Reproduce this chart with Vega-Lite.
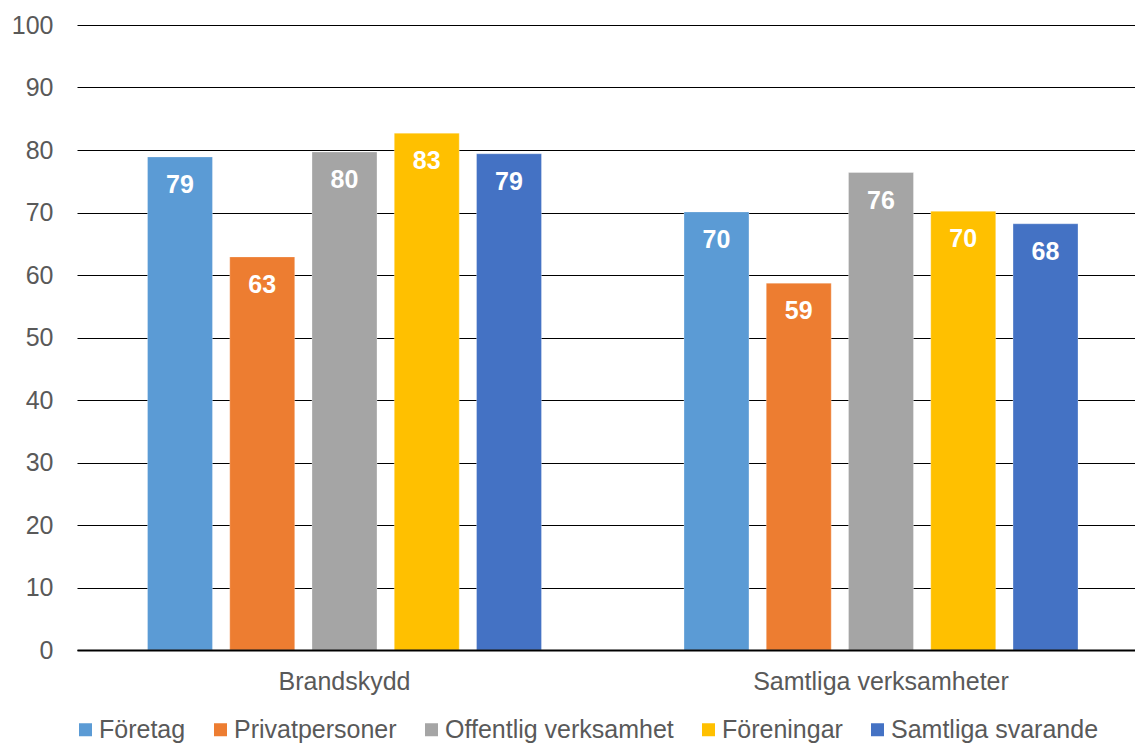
{
  "$schema": "https://vega.github.io/schema/vega-lite/v6.json",
  "autosize": "none",
  "padding": {"left": 77, "top": 25, "right": 0, "bottom": 95},
  "width": 1058,
  "height": 625,
  "background": "white",
  "config": {
    "view": {"stroke": null},
    "font": "Liberation Sans"
  },
  "data": {
    "values": [
      {"group": "Brandskydd", "series": "Företag", "value": 78.9},
      {"group": "Brandskydd", "series": "Privatpersoner", "value": 62.9},
      {"group": "Brandskydd", "series": "Offentlig verksamhet", "value": 79.7},
      {"group": "Brandskydd", "series": "Föreningar", "value": 82.7},
      {"group": "Brandskydd", "series": "Samtliga svarande", "value": 79.4},
      {"group": "Samtliga verksamheter", "series": "Företag", "value": 70.1},
      {"group": "Samtliga verksamheter", "series": "Privatpersoner", "value": 58.7},
      {"group": "Samtliga verksamheter", "series": "Offentlig verksamhet", "value": 76.4},
      {"group": "Samtliga verksamheter", "series": "Föreningar", "value": 70.2},
      {"group": "Samtliga verksamheter", "series": "Samtliga svarande", "value": 68.2}
    ]
  },
  "encoding": {
    "x": {
      "field": "group",
      "type": "nominal",
      "sort": ["Brandskydd", "Samtliga verksamheter"],
      "scale": {"range": [0, 1071.5], "paddingInner": 0.2656, "paddingOuter": 0.1314},
      "axis": {
        "title": null,
        "labelAngle": 0,
        "ticks": false,
        "domain": true,
        "domainColor": "#000000",
        "domainWidth": 2,
        "labelFontSize": 25,
        "labelColor": "#595959",
        "labelPadding": 19,
        "labelLimit": 500,
        "grid": false,
        "zindex": 1
      }
    },
    "xOffset": {
      "field": "series",
      "type": "nominal",
      "sort": ["Företag", "Privatpersoner", "Offentlig verksamhet", "Föreningar", "Samtliga svarande"],
      "scale": {"paddingInner": 0.21, "paddingOuter": 0}
    },
    "y": {
      "field": "value",
      "type": "quantitative",
      "scale": {"domain": [0, 100], "nice": false},
      "axis": {
        "title": null,
        "values": [0, 10, 20, 30, 40, 50, 60, 70, 80, 90, 100],
        "grid": true,
        "gridColor": "#000000",
        "gridWidth": 1,
        "domain": false,
        "ticks": false,
        "labelPadding": 24,
        "labelFontSize": 25,
        "labelColor": "#595959"
      }
    }
  },
  "layer": [
    {
      "mark": {"type": "bar", "stroke": "white", "strokeWidth": 0.5, "strokeOpacity": 0.6},
      "encoding": {
        "color": {
          "field": "series",
          "type": "nominal",
          "scale": {
            "domain": ["Företag", "Privatpersoner", "Offentlig verksamhet", "Föreningar", "Samtliga svarande"],
            "range": ["#5B9BD5", "#ED7D31", "#A5A5A5", "#FFC000", "#4472C4"]
          },
          "legend": {
            "title": null,
            "orient": "none",
            "direction": "horizontal",
            "legendX": -4,
            "legendY": 692,
            "padding": 0,
            "symbolType": "square",
            "symbolSize": 169,
            "symbolStrokeWidth": 0,
            "symbolOpacity": 1,
            "labelFontSize": 25,
            "labelColor": "#595959",
            "labelOffset": 1,
            "columnPadding": 22,
            "labelLimit": 400
          }
        }
      }
    },
    {
      "mark": {"type": "text", "color": "white", "fontWeight": "bold", "fontSize": 25, "baseline": "alphabetic", "align": "center", "dy": 36},
      "encoding": {
        "text": {"field": "value", "type": "quantitative", "format": ".0f"}
      }
    }
  ]
}
